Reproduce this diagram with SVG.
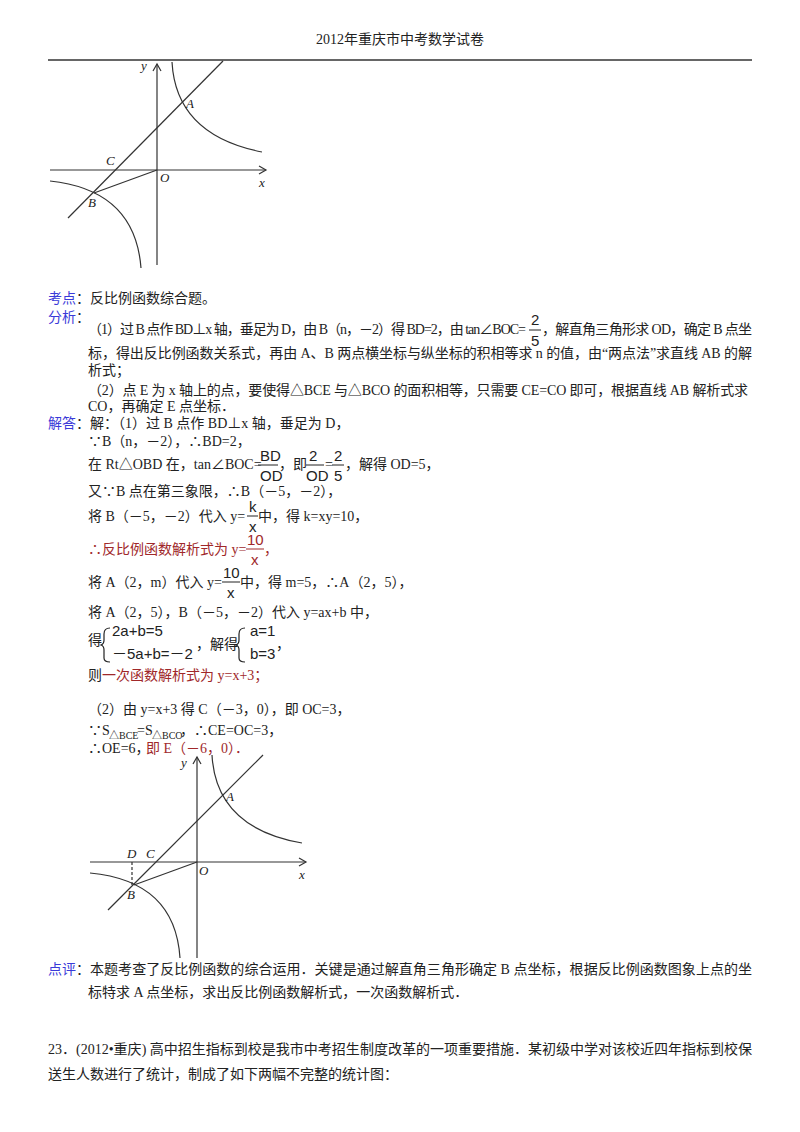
<svg xmlns="http://www.w3.org/2000/svg" width="800" height="1132" viewBox="0 0 800 1132">
<defs>
<style>
text{font-family:"Liberation Serif","Noto Sans CJK SC",serif;font-size:14px;fill:#222}
.lb{fill:#3a3ad8}
.rd{fill:#a0282a}
.it{font-style:italic;font-size:13px}
.fr{font-family:"Liberation Sans","Noto Sans CJK SC",sans-serif;font-size:15px}
.g{stroke:#333;stroke-width:1.2;fill:none}
</style>
<marker id="ar" markerWidth="10" markerHeight="10" refX="8" refY="5" orient="auto" markerUnits="userSpaceOnUse"><path d="M1,1 L8,5 L1,9" fill="none" stroke="#333" stroke-width="1.2"/></marker>
</defs>
<rect width="800" height="1132" fill="#fff"/>
<text x="400" y="44" text-anchor="middle">2012年重庆市中考数学试卷</text>
<line x1="48" y1="60" x2="752" y2="60" stroke="#333" stroke-width="1.5"/>

<g id="graph1">
<line class="g" x1="50" y1="170" x2="266" y2="170" marker-end="url(#ar)"/>
<line class="g" x1="157" y1="265" x2="157" y2="64" marker-end="url(#ar)"/>
<line class="g" x1="68" y1="218" x2="223" y2="61"/>
<line class="g" x1="94" y1="193" x2="157" y2="170"/>
<path class="g" d="M172,62 Q176,135 262,152"/>
<path class="g" d="M50,181 Q135,190 141,268"/>
<text class="it" x="141" y="70">y</text>
<text class="it" x="186" y="108">A</text>
<text class="it" x="106" y="165">C</text>
<text class="it" x="160" y="182">O</text>
<text class="it" x="259" y="187">x</text>
<text class="it" x="88" y="207">B</text>
</g>

<g id="text1">
<text class="lb" x="48" y="303">考点</text><text x="76" y="303">：反比例函数综合题。</text>
<text class="lb" x="48" y="322">分析</text><text x="76" y="322">：</text>
<text x="88" y="334" textLength="438" lengthAdjust="spacing">（1）过 B 点作 BD⊥x 轴，垂足为 D，由 B（n，－2）得 BD=2，由 tan∠BOC=</text>
<text class="fr" x="531" y="325">2</text><line x1="529" y1="330" x2="541" y2="330" stroke="#222"/><text class="fr" x="531" y="346">5</text>
<text x="542" y="334" textLength="210" lengthAdjust="spacing">，解直角三角形求 OD，确定 B 点坐</text>
<text x="88" y="358" textLength="664" lengthAdjust="spacing">标，得出反比例函数关系式，再由 A、B 两点横坐标与纵坐标的积相等求 n 的值，由“两点法”求直线 AB 的解</text>
<text x="88" y="375">析式；</text>
<text x="88" y="395" textLength="660" lengthAdjust="spacing">（2）点 E 为 x 轴上的点，要使得△BCE 与△BCO 的面积相等，只需要 CE=CO 即可，根据直线 AB 解析式求</text>
<text x="88" y="411">CO，再确定 E 点坐标．</text>

<text class="lb" x="48" y="428">解答</text><text x="76" y="428">：解：（1）过 B 点作 BD⊥x 轴，垂足为 D，</text>
<text x="88" y="446">∵B（n，－2），∴BD=2，</text>
<text x="88" y="469">在 Rt△OBD 在，tan∠BOC=</text>
<text class="fr" x="260" y="461">BD</text><line x1="258" y1="465" x2="278" y2="465" stroke="#222"/><text class="fr" x="260" y="481">OD</text>
<text x="279" y="469">，即</text>
<text class="fr" x="309" y="461">2</text><line x1="306" y1="465" x2="324" y2="465" stroke="#222"/><text class="fr" x="306" y="481">OD</text>
<text x="325" y="469">=</text>
<text class="fr" x="334" y="461">2</text><line x1="332" y1="465" x2="344" y2="465" stroke="#222"/><text class="fr" x="334" y="481">5</text>
<text x="345" y="469">，解得 OD=5，</text>
<text x="88" y="496">又∵B 点在第三象限，∴B（－5，－2），</text>
<text x="88" y="521">将 B（－5，－2）代入 y=</text>
<text class="fr" x="249" y="512">k</text><line x1="247" y1="516" x2="258" y2="516" stroke="#222"/><text class="fr" x="249" y="532">x</text>
<text x="258" y="521">中，得 k=xy=10，</text>
<text class="rd" x="88" y="554">∴反比例函数解析式为 y=</text>
<text class="fr rd" x="247" y="545">10</text><line x1="246" y1="549" x2="264" y2="549" stroke="#a0282a"/><text class="fr rd" x="251" y="565">x</text>
<text class="rd" x="264" y="554">，</text>
<text x="88" y="587">将 A（2，m）代入 y=</text>
<text class="fr" x="223" y="578">10</text><line x1="222" y1="582" x2="240" y2="582" stroke="#222"/><text class="fr" x="227" y="598">x</text>
<text x="240" y="587">中，得 m=5，∴A（2，5），</text>
<text x="88" y="617">将 A（2，5），B（－5，－2）代入 y=ax+b 中，</text>
<text x="88" y="645">得</text>
<path d="M110,628 Q104,628 104,634 L104,640 Q104,644 101,645 Q104,646 104,650 L104,658 Q104,662 110,662" fill="none" stroke="#222" stroke-width="1.2"/>
<text class="fr" x="112" y="636">2a+b=5</text>
<text class="fr" x="112" y="659">－5a+b=－2</text>
<text x="196" y="649">，解得</text>
<path d="M245,628 Q239,628 239,634 L239,640 Q239,644 236,645 Q239,646 239,650 L239,658 Q239,662 245,662" fill="none" stroke="#222" stroke-width="1.2"/>
<text class="fr" x="250" y="636">a=1</text>
<text class="fr" x="250" y="659">b=3</text>
<text x="276" y="649">，</text>
<text x="88" y="680">则</text><text class="rd" x="102" y="680">一次函数解析式为 y=x+3；</text>
<text x="88" y="714">（2）由 y=x+3 得 C（－3，0），即 OC=3，</text>
<text x="88" y="735">∵S</text><text x="109" y="739" style="font-size:10px">△BCE</text><text x="137" y="735">=S</text><text x="152" y="739" style="font-size:10px">△BCO</text><text x="180" y="735">，∴CE=OC=3，</text>
<text x="88" y="753">∴OE=6，</text><text class="rd" x="146" y="753">即 E（－6，0）．</text>
</g>

<g id="graph2">
<line class="g" x1="90" y1="862" x2="306" y2="862" marker-end="url(#ar)"/>
<line class="g" x1="197" y1="958" x2="197" y2="757" marker-end="url(#ar)"/>
<line class="g" x1="108" y1="910" x2="263" y2="755"/>
<line class="g" x1="134" y1="885" x2="197" y2="862"/>
<line x1="132" y1="862" x2="132" y2="885" stroke="#333" stroke-width="1.2" stroke-dasharray="3,2"/>
<path class="g" d="M212,755 Q216,828 302,843"/>
<path class="g" d="M90,873 Q175,881 180,958"/>
<text class="it" x="181" y="767">y</text>
<text class="it" x="226" y="801">A</text>
<text class="it" x="127" y="858">D</text>
<text class="it" x="146" y="858">C</text>
<text class="it" x="199" y="875">O</text>
<text class="it" x="299" y="879">x</text>
<text class="it" x="127" y="899">B</text>
</g>

<g id="text2">
<text class="lb" x="48" y="974">点评</text><text x="76" y="974" textLength="676" lengthAdjust="spacing">：本题考查了反比例函数的综合运用．关键是通过解直角三角形确定 B 点坐标，根据反比例函数图象上点的坐</text>
<text x="88" y="997">标特求 A 点坐标，求出反比例函数解析式，一次函数解析式．</text>
<text x="48" y="1054" textLength="704" lengthAdjust="spacing">23．(2012•重庆) 高中招生指标到校是我市中考招生制度改革的一项重要措施．某初级中学对该校近四年指标到校保</text>
<text x="48" y="1079">送生人数进行了统计，制成了如下两幅不完整的统计图：</text>
</g>
</svg>
